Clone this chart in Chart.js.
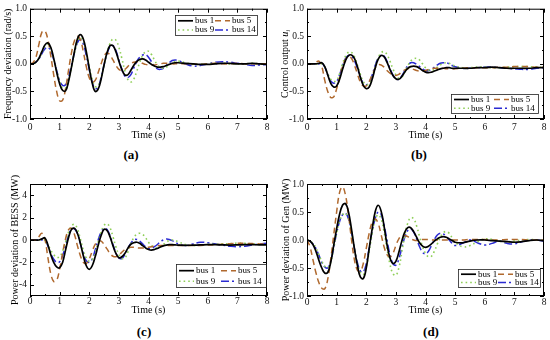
<!DOCTYPE html>
<html>
<head>
<meta charset="utf-8">
<script src="https://cdn.jsdelivr.net/npm/chart.js@4.4.0/dist/chart.umd.min.js"></script>
<style>
  body { margin: 0; width: 550px; height: 340px; background: #fff; position: relative; overflow: hidden; font-family: "Liberation Serif", serif; }
  canvas { position: absolute; }
  .panel { position: absolute; font-weight: bold; font-size: 13px; transform: translate(-50%, -50%); color: #000; }
</style>
</head>
<body>
<canvas id="graficoA" width="275" height="141" style="left:0;top:0"></canvas>
<canvas id="graficoB" width="275" height="141" style="left:275px;top:0"></canvas>
<canvas id="graficoC" width="275" height="146" style="left:0;top:170px"></canvas>
<canvas id="graficoD" width="275" height="146" style="left:275px;top:170px"></canvas>
<div class="panel" style="left:131px;top:155px">(a)</div>
<div class="panel" style="left:419px;top:155px">(b)</div>
<div class="panel" style="left:144px;top:332px">(c)</div>
<div class="panel" style="left:431px;top:332px">(d)</div>
<script>
// tiempo (s)
const tiempo = [0,0.1,0.2,0.3,0.4,0.5,0.6,0.7,0.8,0.9,1,1.1,1.2,1.3,1.4,1.5,1.6,1.7,1.8,1.9,2,2.1,2.2,2.3,2.4,2.5,2.6,2.7,2.8,2.9,3,3.1,3.2,3.3,3.4,3.5,3.6,3.7,3.8,3.9,4,4.1,4.2,4.3,4.4,4.5,4.6,4.7,4.8,4.9,5,5.25,5.5,5.75,6,6.25,6.5,6.75,7,7.25,7.5,7.75,8];

const etiquetasBus = ['bus 1', 'bus 5', 'bus 9', 'bus 14'];

// (a) Frequency deviation
const frecBus1 = [0,0,0.03,0.1,0.22,0.34,0.38,0.3,0.1,-0.15, -0.36,-0.48,-0.49,-0.32,-0.06,0.22,0.45,0.53,0.45,0.22, -0.08,-0.35,-0.5,-0.46,-0.28,-0.02,0.2,0.33,0.33,0.22, 0.05,-0.1,-0.2,-0.2,-0.12,-0.03,0.04,0.08,0.09,0.07, 0.03,-0.01,-0.04,-0.06,-0.06,-0.05,-0.03,-0.01,0.01,0.02, 0.02, 0.01,0,-0.01,-0.01,0,0.01,0.01,0,0,0.01,0,-0.01];
const frecBus5 = [0,0.02,0.12,0.35,0.57,0.6,0.45,0.15,-0.2,-0.5, -0.67,-0.66,-0.45,-0.12,0.2,0.42,0.5,0.44,0.22,-0.05, -0.25,-0.33,-0.3,-0.16,0,0.14,0.2,0.16,0.07,-0.03, -0.1,-0.12,-0.1,-0.05,0,0.03,0.04,0.03,0.01,-0.01, -0.02,-0.02,-0.02,-0.01,0,0.01,0.01,0.01,0,0, 0, 0,0,-0.01,0,0.01,0,0,0.01,0,0,0,0];
const frecBus9 = [0,0,0.03,0.1,0.2,0.32,0.36,0.28,0.1,-0.12, -0.32,-0.44,-0.44,-0.3,-0.06,0.2,0.4,0.48,0.42,0.22, -0.05,-0.28,-0.41,-0.4,-0.25,-0.02,0.2,0.37,0.45,0.43, 0.3,0.1,-0.12,-0.28,-0.33,-0.28,-0.14,0.02,0.15,0.22, 0.23,0.17,0.07,-0.02,-0.07,-0.08,-0.06,-0.02,0.02,0.04, 0.05, 0.02,-0.01,-0.01,0,0.01,0.01,0,0,0,0.01,0,0];
const frecBus14 = [0,0,0.03,0.09,0.18,0.27,0.3,0.24,0.08,-0.12, -0.3,-0.39,-0.38,-0.24,-0.03,0.2,0.38,0.44,0.36,0.15, -0.1,-0.33,-0.45,-0.42,-0.25,-0.02,0.18,0.31,0.33,0.24, 0.07,-0.1,-0.22,-0.25,-0.2,-0.08,0.04,0.12,0.16,0.17, 0.12,0.04,-0.04,-0.09,-0.1,-0.08,-0.03,0.02,0.06,0.07, 0.06, 0,-0.04,-0.03,0,0.03,0.04,0.03,0.01,-0.01,-0.03,-0.02,-0.01];

// (b) Control output
const ctrlBus1 = [0,0,0,0,0.01,0.02,-0.05,-0.2,-0.35,-0.42, -0.4,-0.28,-0.1,0.06,0.15,0.16,0.1,-0.05,-0.24,-0.39, -0.45,-0.42,-0.28,-0.08,0.08,0.15,0.13,0.03,-0.1,-0.21, -0.27,-0.28,-0.23,-0.15,-0.08,-0.05,-0.04,-0.05,-0.08,-0.12, -0.15,-0.16,-0.15,-0.13,-0.11,-0.09,-0.08,-0.07,-0.07,-0.08, -0.08, -0.08,-0.08,-0.07,-0.07,-0.06,-0.07,-0.08,-0.08,-0.08,-0.08,-0.07,-0.07];
const ctrlBus5 = [0,0,0,0.03,0.05,-0.05,-0.3,-0.5,-0.61,-0.6, -0.45,-0.25,-0.05,0.08,0.13,0.1,-0.02,-0.18,-0.33,-0.4, -0.4,-0.32,-0.2,-0.08,-0.02,-0.02,-0.06,-0.12,-0.17,-0.2, -0.21,-0.19,-0.15,-0.11,-0.09,-0.08,-0.1,-0.12,-0.13,-0.13, -0.12,-0.1,-0.09,-0.08,-0.08,-0.08,-0.08,-0.09,-0.09,-0.09, -0.09, -0.08,-0.07,-0.07,-0.07,-0.07,-0.06,-0.06,-0.05,-0.05,-0.05,-0.06,-0.06];
const ctrlBus9 = [0,0,0,0,0,0,-0.06,-0.18,-0.28,-0.32, -0.3,-0.18,0,0.14,0.21,0.21,0.13,-0.02,-0.19,-0.32, -0.38,-0.36,-0.24,-0.06,0.1,0.2,0.22,0.17,0.05,-0.09, -0.2,-0.26,-0.24,-0.15,-0.04,0.05,0.09,0.1,0.07,0, -0.07,-0.11,-0.12,-0.1,-0.06,-0.02,0.01,0.02,0.01,-0.02, -0.04, -0.07,-0.07,-0.06,-0.06,-0.07,-0.07,-0.06,-0.05,-0.05,-0.05,-0.06,-0.06];
const ctrlBus14 = [0,0,0,0,0,0.01,-0.06,-0.2,-0.31,-0.35, -0.32,-0.2,-0.03,0.1,0.15,0.14,0.06,-0.08,-0.24,-0.35, -0.38,-0.33,-0.2,-0.03,0.1,0.16,0.14,0.05,-0.08,-0.2, -0.27,-0.28,-0.22,-0.12,-0.03,0.02,0.02,-0.01,-0.05,-0.09, -0.12,-0.12,-0.1,-0.06,-0.02,0.01,0.02,0.02,0,-0.03, -0.05, -0.08,-0.08,-0.07,-0.06,-0.06,-0.07,-0.08,-0.09,-0.1,-0.1,-0.08,-0.07];

// (c) Power deviation of BESS
const bessBus1 = [0,0,0,0,0.1,0.2,-0.4,-1.3,-2.0,-2.4, -2.48,-2.0,-0.9,0.2,0.95,1.05,0.6,-0.3,-1.4,-2.3, -2.62,-2.3,-1.5,-0.5,0.4,0.95,0.85,0.3,-0.5,-1.2, -1.58,-1.5,-1.2,-0.75,-0.4,-0.25,-0.2,-0.3,-0.5,-0.7, -0.85,-0.9,-0.85,-0.75,-0.62,-0.52,-0.45,-0.42,-0.42,-0.44, -0.46, -0.48,-0.46,-0.44,-0.42,-0.42,-0.44,-0.45,-0.44,-0.42,-0.42,-0.43,-0.44];
const bessBus5 = [0,0,0,0.3,0.6,0.1,-1.5,-3.0,-3.7,-3.6, -2.6,-1.2,0.1,0.9,1.05,0.5,-0.5,-1.4,-2.0,-2.1, -1.7,-1.0,-0.4,-0.1,-0.1,-0.4,-0.8,-1.2,-1.45,-1.5, -1.35,-1.1,-0.85,-0.7,-0.65,-0.65,-0.7,-0.72,-0.72,-0.7, -0.65,-0.6,-0.55,-0.52,-0.5,-0.5,-0.5,-0.5,-0.5,-0.5, -0.5, -0.5,-0.5,-0.48,-0.45,-0.42,-0.38,-0.33,-0.3,-0.3,-0.32,-0.35,-0.38];
const bessBus9 = [0,0,0,0,0,0,-0.4,-0.9,-1.3,-1.55, -1.5,-1.0,-0.2,0.7,1.25,1.4,1.0,0.1,-0.9,-1.6, -1.9,-1.75,-1.1,-0.2,0.7,1.3,1.45,1.1,0.3,-0.6, -1.3,-1.65,-1.6,-1.1,-0.4,0.2,0.5,0.6,0.5,0.2, -0.2,-0.5,-0.68,-0.7,-0.6,-0.4,-0.2,-0.05,0,-0.05, -0.15, -0.4,-0.5,-0.45,-0.4,-0.38,-0.35,-0.32,-0.28,-0.3,-0.35,-0.4,-0.4];
const bessBus14 = [0,0,0,0,0,0.05,-0.5,-1.2,-1.7,-2.0, -1.95,-1.4,-0.5,0.4,0.95,1.0,0.6,-0.3,-1.2,-1.85, -2.0,-1.7,-0.9,0,0.7,1.05,0.95,0.4,-0.4,-1.15, -1.6,-1.65,-1.3,-0.75,-0.3,0,0.05,-0.1,-0.35,-0.6, -0.75,-0.75,-0.6,-0.4,-0.15,0,0.08,0.05,-0.05,-0.2, -0.35, -0.5,-0.35,-0.2,-0.25,-0.35,-0.45,-0.55,-0.6,-0.55,-0.45,-0.35,-0.3];

// (d) Power deviation of Gen
const genBus1 = [0,-0.02,-0.08,-0.2,-0.36,-0.5,-0.59,-0.58,-0.4,-0.1, 0.2,0.46,0.62,0.65,0.5,0.2,-0.15,-0.45,-0.66,-0.69, -0.5,-0.15,0.2,0.5,0.62,0.52,0.25,-0.08,-0.32,-0.42, -0.38,-0.22,-0.02,0.14,0.22,0.22,0.15,0.05,-0.05,-0.11, -0.13,-0.11,-0.07,-0.02,0.02,0.05,0.06,0.05,0.02,-0.01, -0.04, -0.05,-0.02,0,0,-0.01,-0.02,-0.03,-0.04,-0.03,-0.01,0,-0.01];
const genBus5 = [0,-0.12,-0.35,-0.58,-0.76,-0.86,-0.87,-0.7,-0.35,0.08, 0.5,0.85,0.95,0.8,0.45,0.02,-0.35,-0.54,-0.56,-0.42, -0.15,0.12,0.32,0.38,0.3,0.1,-0.12,-0.26,-0.3,-0.24, -0.1,0.02,0.07,0.08,0.06,0.03,0,-0.01,0,0.01, 0.01,0.01,0,0,0,0,0,0,0,0, 0, 0,0.01,0.01,0.01,0,0,0.01,0.01,0.01,0,0,0];
const genBus9 = [0,-0.02,-0.06,-0.14,-0.26,-0.38,-0.47,-0.5,-0.4,-0.15, 0.12,0.33,0.45,0.48,0.38,0.15,-0.15,-0.42,-0.58,-0.62, -0.48,-0.2,0.12,0.36,0.45,0.38,0.15,-0.15,-0.43,-0.6, -0.63,-0.5,-0.22,0.08,0.3,0.4,0.38,0.25,0.06,-0.12, -0.24,-0.3,-0.29,-0.2,-0.07,0.05,0.13,0.15,0.12,0.04, -0.04, -0.12,-0.1,-0.03,0.02,0.01,-0.02,-0.03,-0.02,0,0.01,0,-0.01];
const genBus14 = [0,-0.02,-0.07,-0.15,-0.27,-0.4,-0.48,-0.5,-0.38,-0.14, 0.12,0.33,0.45,0.48,0.38,0.14,-0.15,-0.4,-0.55,-0.57, -0.42,-0.14,0.15,0.38,0.5,0.46,0.27,0,-0.26,-0.42, -0.45,-0.34,-0.14,0.05,0.17,0.2,0.14,0.02,-0.12,-0.22, -0.25,-0.2,-0.1,0.01,0.09,0.12,0.11,0.06,0,-0.06, -0.1, -0.06,0,-0.05,-0.09,-0.06,-0.02,-0.06,-0.07,-0.03,0,0,-0.02];

// ticks
const ticksX = [0, 1, 2, 3, 4, 5, 6, 7, 8];
const ticksUnidad = [-1, -0.5, 0, 0.5, 1];
const ticksBess = [-4, -2, 0, 2, 4];

const fuente = '"Liberation Serif", "Times New Roman", serif';

const estilosBus = [
  { borderColor: '#000000', borderWidth: 1.7, borderDash: [] },
  { borderColor: '#b0692e', borderWidth: 1.5, borderDash: [6, 4] },
  { borderColor: '#8fcf58', borderWidth: 1.6, borderDash: [1.6, 3] },
  { borderColor: '#2b2bd2', borderWidth: 1.5, borderDash: [8, 3, 2, 3] }
];

function series(listas) {
  return listas.map((valores, i) => ({
    label: etiquetasBus[i],
    data: tiempo.map((t, k) => ({ x: t, y: valores[k] })),
    ...estilosBus[i],
    pointRadius: 0,
    tension: 0.4,
    fill: false
  }));
}

// marco con marcas hacia adentro en los cuatro lados
const pluginMarco = {
  id: 'marco',
  afterDatasetsDraw(chart, args, o) {
    const { ctx, chartArea: a, scales: { x, y } } = chart;
    ctx.save();
    ctx.strokeStyle = '#000';
    ctx.lineWidth = 1;
    ctx.setLineDash([]);
    ctx.strokeRect(a.left + 0.5, a.top + 0.5, a.right - a.left - 1, a.bottom - a.top - 1);
    ctx.beginPath();
    for (let v = x.min; v <= x.max + 1e-9; v += 0.5) {
      const px = Math.round(x.getPixelForValue(v)) + 0.5;
      const l = Math.abs(v - Math.round(v)) < 1e-6 ? 4 : 2;
      ctx.moveTo(px, a.bottom); ctx.lineTo(px, a.bottom - l);
      ctx.moveTo(px, a.top); ctx.lineTo(px, a.top + l);
    }
    for (let v = y.min; v <= y.max + 1e-9; v += o.pasoMenor) {
      const py = Math.round(y.getPixelForValue(v)) + 0.5;
      const r = v / o.pasoMayor;
      const l = Math.abs(r - Math.round(r)) < 1e-6 ? 4 : 2;
      ctx.moveTo(a.left, py); ctx.lineTo(a.left + l, py);
      ctx.moveTo(a.right, py); ctx.lineTo(a.right - l, py);
    }
    ctx.stroke();
    ctx.restore();
  }
};

// leyenda en caja, dos columnas
const pluginLeyenda = {
  id: 'leyendaCaja',
  afterDraw(chart, args, o) {
    const { ctx, chartArea: a } = chart;
    const L = Math.round(a.right - o.derecha - o.ancho);
    const T = Math.round(o.arriba != null ? a.top + o.arriba : a.bottom - o.abajo - o.alto);
    ctx.save();
    ctx.fillStyle = '#fff';
    ctx.fillRect(L, T, o.ancho, o.alto);
    ctx.strokeStyle = '#222';
    ctx.lineWidth = 0.8;
    ctx.strokeRect(L + 0.5, T + 0.5, o.ancho, o.alto);
    const filas = [T + o.alto * 0.29, T + o.alto * 0.75];
    chart.data.datasets.forEach((ds, i) => {
      const fy = filas[Math.floor(i / 2)];
      const x0 = L + (i % 2 ? o.col2 : 3);
      ctx.setLineDash(ds.borderDash);
      ctx.strokeStyle = ds.borderColor;
      ctx.lineWidth = ds.borderWidth;
      ctx.beginPath();
      ctx.moveTo(x0, fy);
      ctx.lineTo(x0 + 15, fy);
      ctx.stroke();
      ctx.setLineDash([]);
      ctx.fillStyle = '#000';
      ctx.font = '9px ' + fuente;
      ctx.textBaseline = 'middle';
      ctx.fillText(ds.label, x0 + 17, fy);
    });
    ctx.restore();
  }
};

// titulo del eje y con partes en cursiva / subindice
const pluginTituloY = {
  id: 'tituloEje',
  afterDraw(chart, args, o) {
    const { ctx, chartArea: a } = chart;
    ctx.save();
    ctx.translate(o.x, (a.top + a.bottom) / 2);
    ctx.rotate(-Math.PI / 2);
    ctx.fillStyle = '#000';
    ctx.textBaseline = 'middle';
    const partes = o.partes.map(p => ({ ...p, f: (p.cursiva ? 'italic ' : '') + (p.sub ? 7 : 10) + 'px ' + fuente }));
    let total = 0;
    partes.forEach(p => { ctx.font = p.f; p.w = ctx.measureText(p.texto).width; total += p.w; });
    let px = -total / 2;
    partes.forEach(p => { ctx.font = p.f; ctx.fillText(p.texto, px, p.sub ? 3 : 0); px += p.w; });
    ctx.restore();
  }
};

function crearGrafico(id, listas, cfg) {
  return new Chart(document.getElementById(id), {
    type: 'line',
    data: { datasets: series(listas) },
    options: {
      responsive: false,
      animation: false,
      layout: { padding: { top: cfg.arriba, right: cfg.derecha, left: 0, bottom: 0 } },
      scales: {
        x: {
          type: 'linear', min: 0, max: 8,
          afterBuildTicks: s => { s.ticks = ticksX.map(v => ({ value: v })); },
          afterFit: s => { s.height = cfg.altoX; },
          grid: { display: false, drawTicks: false },
          border: { display: false },
          ticks: { padding: cfg.padX, color: '#111', autoSkip: false, maxRotation: 0, font: { family: fuente, size: 9.5 } },
          title: { display: true, text: 'Time (s)', color: '#000', padding: 0, font: { family: fuente, size: 10 } }
        },
        y: {
          min: cfg.min, max: cfg.max,
          afterBuildTicks: s => { s.ticks = cfg.ticks.map(v => ({ value: v })); },
          afterFit: s => { s.width = cfg.anchoY; },
          grid: { display: false, drawTicks: false },
          border: { display: false },
          ticks: { padding: 3, color: '#111', autoSkip: false, font: { family: fuente, size: 9.5 }, callback: cfg.formato }
        }
      },
      plugins: {
        legend: { display: false },
        tooltip: { enabled: false },
        marco: { pasoMayor: cfg.pasoMayor, pasoMenor: cfg.pasoMenor },
        leyendaCaja: cfg.leyenda,
        tituloEje: { x: cfg.xTitulo, partes: cfg.titulo }
      }
    },
    plugins: [pluginMarco, pluginLeyenda, pluginTituloY]
  });
}

const unDecimal = v => v.toFixed(1);
const entero = v => String(v);

crearGrafico('graficoA', [frecBus1, frecBus5, frecBus9, frecBus14], {
  arriba: 7, derecha: 8, altoX: 22, anchoY: 30, padX: 3,
  min: -1, max: 1, ticks: ticksUnidad, formato: unDecimal, pasoMayor: 0.5, pasoMenor: 0.25,
  xTitulo: 8.5, titulo: [{ texto: 'Frequency deviation (rad/s)' }],
  leyenda: { derecha: 10, arriba: 6, ancho: 82, alto: 20, col2: 40 }
});

crearGrafico('graficoB', [ctrlBus1, ctrlBus5, ctrlBus9, ctrlBus14], {
  arriba: 7, derecha: 6, altoX: 22, anchoY: 32, padX: 3,
  min: -1, max: 1, ticks: ticksUnidad, formato: unDecimal, pasoMayor: 0.5, pasoMenor: 0.25,
  xTitulo: 10.5, titulo: [{ texto: 'Control output ' }, { texto: 'u', cursiva: true }, { texto: 'i', cursiva: true, sub: true }],
  leyenda: { derecha: 6, abajo: 6, ancho: 87, alto: 19, col2: 43 }
});

crearGrafico('graficoC', [bessBus1, bessBus5, bessBus9, bessBus14], {
  arriba: 14, derecha: 8, altoX: 20, anchoY: 30, padX: 0,
  min: -5, max: 5, ticks: ticksBess, formato: entero, pasoMayor: 2, pasoMenor: 1,
  xTitulo: 15, titulo: [{ texto: 'Power deviation of BESS (MW)' }],
  leyenda: { derecha: 1, abajo: 9, ancho: 90, alto: 23, col2: 45 }
});

crearGrafico('graficoD', [genBus1, genBus5, genBus9, genBus14], {
  arriba: 14, derecha: 6, altoX: 20, anchoY: 32, padX: 1,
  min: -1, max: 1, ticks: ticksUnidad, formato: unDecimal, pasoMayor: 0.5, pasoMenor: 0.25,
  xTitulo: 11, titulo: [{ texto: 'Power deviation of Gen (MW)' }],
  leyenda: { derecha: 4, abajo: 9, ancho: 82, alto: 18, col2: 40 }
});
</script>
</body>
</html>
